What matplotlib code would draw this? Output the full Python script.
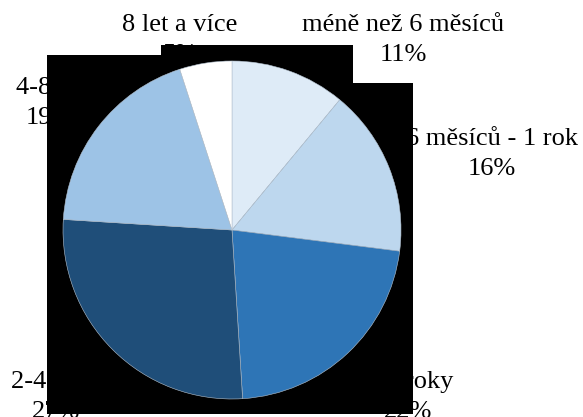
import matplotlib
matplotlib.use('Agg')
import matplotlib.pyplot as plt
from matplotlib.patches import Rectangle

# Share of respondents by length of time
categories = ['méně než 6 měsíců', '6 měsíců - 1 rok', '1-2 roky',
              '2-4 roky', '4-8 let', '8 let a více']
shares = [11, 16, 22, 27, 19, 5]
colors = ['#deebf7', '#bdd7ee', '#2e75b6', '#1f4e79', '#9dc3e6', '#ffffff']

# label centres in pixels (x, y from top)
label_pos = [(403, 40), (492, 154), (408, 397), (56, 397), (50, 103), (180, 40)]

W, H = 583, 417
fig = plt.figure(figsize=(W / 100, H / 100), dpi=100)

for name, val, (px, py) in zip(categories, shares, label_pos):
    fig.text(px / W, 1 - py / H, f'{name}\n{val}%', ha='center', va='center',
             family='Liberation Serif', fontsize=19, linespacing=1.45,
             color='black', zorder=1)

# black backdrop behind the pie
for x0, y0, x1, y1 in [(47, 55, 162, 414), (161, 45, 353, 414), (352, 83, 413, 414)]:
    fig.patches.append(Rectangle((x0 / W, 1 - y1 / H), (x1 - x0) / W, (y1 - y0) / H,
                                 transform=fig.transFigure, facecolor='black',
                                 edgecolor='none', zorder=2))

cx, cy, r = 232, 230, 169
ax = fig.add_axes([(cx - r) / W, 1 - (cy + r) / H, 2 * r / W, 2 * r / H])
ax.set_zorder(3)
ax.pie(shares, colors=colors, startangle=90, counterclock=False,
       wedgeprops=dict(edgecolor='#b4c2d0', linewidth=0.4))
ax.set_xlim(-1, 1)
ax.set_ylim(-1, 1)
ax.set_aspect('equal')
ax.axis('off')

fig.savefig('out.png', dpi=100)
